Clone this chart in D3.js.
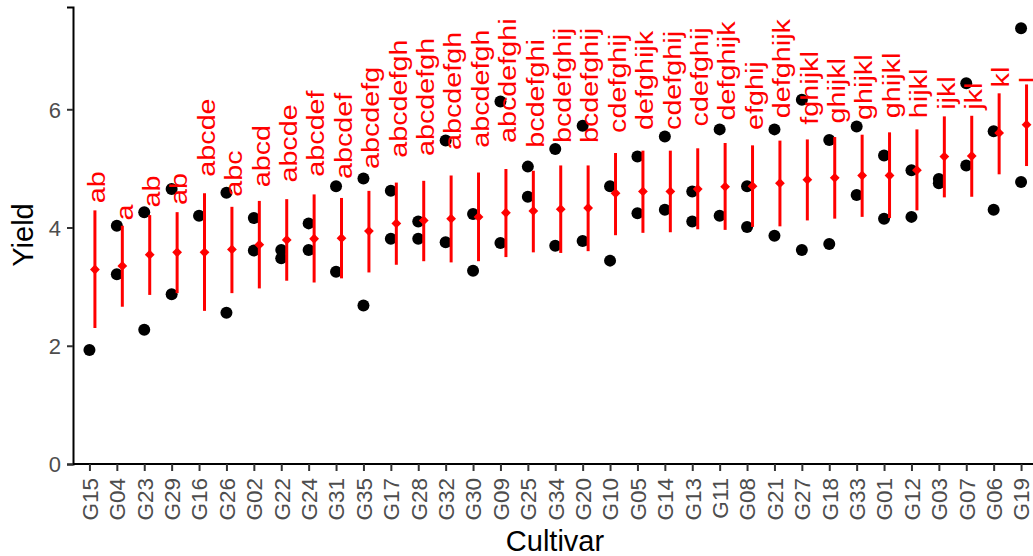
<!DOCTYPE html>
<html>
<head>
<meta charset="utf-8">
<script src="https://cdn.jsdelivr.net/npm/d3@7"></script>
<style>
  body { margin: 0; background: #fff; }
  svg text { font-family: "Liberation Sans", Arial, Helvetica, sans-serif; }
</style>
</head>
<body>
<div id="chart"></div>
<script>
// cultivars, ordered by mean yield
const cultivars = ["G15", "G04", "G23", "G29", "G16", "G26", "G02", "G22", "G24", "G31",
  "G35", "G17", "G28", "G32", "G30", "G09", "G25", "G34", "G20", "G10", "G05", "G14",
  "G13", "G11", "G08", "G21", "G27", "G18", "G33", "G01", "G12", "G03", "G07", "G06", "G19"];

// observed plot values (two reps visible, null where only one shows)
const repA = [1.93, 4.03, 4.26, 4.65, 4.20, 4.59, 4.16, 3.62, 4.07, 4.70,
  4.83, 4.62, 4.10, 5.47, 4.23, 6.13, 5.03, 5.33, 5.72, 4.70, 5.20, 5.54,
  4.61, 5.66, 4.70, 5.66, 6.16, 5.48, 5.71, 5.22, 4.97, 4.82, 6.44, 5.63, 7.37];
const repB = [null, 3.21, 2.27, 2.87, null, 2.56, 3.61, 3.48, 3.62, 3.25,
  2.68, 3.81, 3.81, 3.75, 3.27, 3.74, 4.52, 3.69, 3.77, 3.44, 4.24, 4.30,
  4.10, 4.20, 4.01, 3.86, 3.62, 3.72, 4.55, 4.15, 4.18, 4.75, 5.05, 4.30, 4.77];

// estimated means and interval ends
const means = [3.29, 3.35, 3.54, 3.58, 3.58, 3.63, 3.71, 3.79, 3.81, 3.82,
  3.94, 4.07, 4.12, 4.15, 4.18, 4.25, 4.28, 4.31, 4.33, 4.58, 4.61, 4.61,
  4.65, 4.69, 4.70, 4.75, 4.81, 4.84, 4.88, 4.88, 4.97, 5.20, 5.21, 5.60, 5.74];
const lower = [2.30, 2.66, 2.86, 2.89, 2.59, 2.89, 2.97, 3.10, 3.07, 3.14,
  3.24, 3.37, 3.43, 3.41, 3.43, 3.50, 3.58, 3.57, 3.60, 3.87, 3.91, 3.92,
  3.97, 3.96, 4.01, 4.02, 4.12, 4.15, 4.18, 4.16, 4.29, 4.51, 4.52, 4.90, 5.04];
const upper = [4.29, 4.03, 4.21, 4.26, 4.58, 4.35, 4.45, 4.48, 4.56, 4.50,
  4.62, 4.76, 4.79, 4.88, 4.93, 4.99, 4.96, 5.05, 5.05, 5.26, 5.30, 5.30,
  5.34, 5.43, 5.39, 5.47, 5.49, 5.53, 5.57, 5.61, 5.66, 5.88, 5.89, 6.27, 6.42];

// compact letter display and where each label starts
const groups = ["ab", "a", "ab", "ab", "abcde", "abc", "abcd", "abcde", "abcdef", "abcdef",
  "abcdefg", "abcdefgh", "abcdefgh", "abcdefgh", "abcdefgh", "abcdefghi", "bcdefghi",
  "bcdefghij", "bcdefghij", "cdefghij", "defghijk", "cdefghij", "cdefghij", "defghijk",
  "efghij", "defghijk", "fghijkl", "ghijkl", "ghijkl", "ghijkl", "hijkl", "ijkl", "jkl", "kl", "l"];
const groupY = [4.41, 4.12, 4.34, 4.38, 4.86, 4.52, 4.68, 4.76, 4.86, 4.82,
  4.99, 5.18, 5.21, 5.31, 5.35, 5.43, 5.35, 5.43, 5.43, 5.60, 5.65, 5.65,
  5.71, 5.81, 5.65, 5.85, 5.74, 5.76, 5.82, 5.85, 5.85, 5.99, 5.99, 6.37, 6.44];

const yTicks = [0, 2, 4, 6];

const W = 1033, H = 556;
const svg = d3.select("#chart").append("svg").attr("width", W).attr("height", H);

const x = d3.scalePoint().domain(cultivars).range([73, 1037.5]).padding(0.6);
const y = d3.scaleLinear().domain([0, 7.73]).range([464, 7]);
const nudge = x.step() * 0.2;

const rows = cultivars.map((c, i) => ({
  c, a: repA[i], b: repB[i], m: means[i], lo: lower[i], hi: upper[i], g: groups[i], gy: groupY[i]
}));

// axes
const gx = svg.append("g")
  .attr("transform", "translate(0,464)")
  .call(d3.axisBottom(x).tickSizeOuter(0).tickSize(7));
gx.select(".domain").attr("stroke", "#000").attr("stroke-width", 2).attr("d", "M73,0H1037");
gx.selectAll(".tick line").attr("stroke", "#333").attr("stroke-width", 2);
gx.selectAll(".tick text")
  .attr("transform", "rotate(-90)")
  .attr("x", -14).attr("y", 0).attr("dy", "0.35em")
  .attr("text-anchor", "end")
  .attr("fill", "#4d4d4d")
  .style("font-size", "22.5px");

const gy = svg.append("g")
  .attr("transform", "translate(73,0)")
  .call(d3.axisLeft(y).tickValues(yTicks).tickSizeOuter(0).tickSize(6).tickPadding(6));
gy.select(".domain").attr("stroke", "#000").attr("stroke-width", 2);
gy.selectAll(".tick line").attr("stroke", "#333").attr("stroke-width", 2);
gy.selectAll(".tick text")
  .attr("fill", "#4d4d4d")
  .attr("dy", "0.36em")
  .style("font-size", "22px");

// axis titles
svg.append("text")
  .attr("x", 555).attr("y", 551)
  .attr("text-anchor", "middle")
  .style("font-size", "29px")
  .text("Cultivar");
svg.append("text")
  .attr("transform", "translate(33,235) rotate(-90)")
  .attr("text-anchor", "middle")
  .style("font-size", "29px")
  .text("Yield");

// raw points
const pts = [];
rows.forEach((r) => {
  if (r.a != null) pts.push([r.c, r.a]);
  if (r.b != null) pts.push([r.c, r.b]);
});
svg.append("g").selectAll("circle").data(pts).enter().append("circle")
  .attr("cx", (d) => x(d[0]))
  .attr("cy", (d) => y(d[1]))
  .attr("r", 6)
  .attr("fill", "#000");

// mean +/- interval
const ci = svg.append("g").selectAll("g").data(rows).enter().append("g");
ci.append("line")
  .attr("x1", (d) => x(d.c) + nudge)
  .attr("x2", (d) => x(d.c) + nudge)
  .attr("y1", (d) => y(d.lo))
  .attr("y2", (d) => y(d.hi))
  .attr("stroke", "#ff0000")
  .attr("stroke-width", 3);
ci.append("path")
  .attr("d", d3.symbol(d3.symbolSquare, 48))
  .attr("transform", (d) => "translate(" + (x(d.c) + nudge) + "," + y(d.m) + ") rotate(45)")
  .attr("fill", "#ff0000");

// letters
svg.append("g").selectAll("text").data(rows).enter().append("text")
  .attr("transform", (d) => "translate(" + (x(d.c) + nudge) + "," + y(d.gy) + ") rotate(-90) scale(1.25,1)")
  .attr("dy", "0.45em")
  .attr("fill", "#ff0000")
  .style("font-size", "23px")
  .text((d) => d.g);
</script>
</body>
</html>
